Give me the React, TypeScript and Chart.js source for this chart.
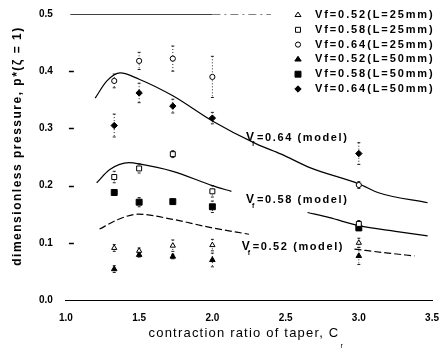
import React, { useEffect, useRef } from 'react';
import { Chart, registerables } from 'chart.js';

Chart.register(...registerables);

// ---- data ----
const contractionRatio = [1.33, 1.5, 1.73, 2.0, 3.0];

const vf052L25 = [0.091, 0.086, 0.095, 0.096, 0.1];
const vf058L25 = [0.215, 0.23, 0.255, 0.19, 0.133];
const vf064L25 = [0.383, 0.418, 0.422, 0.39, 0.201];
const vf052L50 = [0.054, 0.079, 0.076, 0.07, 0.077];
const vf058L50 = [0.188, 0.171, 0.172, 0.163, 0.126];
const vf064L50 = [0.305, 0.362, 0.339, 0.318, 0.256];

const err052L25 = [0.006, 0.005, 0.01, 0.01, 0.008];
const err058L25 = [0.01, 0.008, 0.006, 0.01, 0.006];
const err064L25 = [0.012, 0.015, 0.022, 0.036, 0.006];
const err052L50 = [0.006, 0.004, 0.004, 0.012, 0.015];
const err058L50 = [0.005, 0.008, 0.004, 0.01, 0.004];
const err064L50 = [0.02, 0.017, 0.012, 0.01, 0.019];

const seriesLabels = [
  'Vf=0.52(L=25mm)',
  'Vf=0.58(L=25mm)',
  'Vf=0.64(L=25mm)',
  'Vf=0.52(L=50mm)',
  'Vf=0.58(L=50mm)',
  'Vf=0.64(L=50mm)',
];

const model064X = [1.2, 1.28, 1.37, 1.5, 1.73, 2.0, 2.3, 2.47, 2.67, 3.0, 3.14, 3.47];
const model064Y = [0.353, 0.383, 0.397, 0.386, 0.357, 0.313, 0.273, 0.255, 0.231, 0.203, 0.187, 0.17];
const model058X = [1.21, 1.3, 1.43, 1.5, 1.73, 2.0, 2.13, 2.4, 2.65, 2.8, 3.0, 3.25, 3.47];
const model058Y = [0.205, 0.228, 0.24, 0.238, 0.225, 0.2, 0.19, null, 0.153, 0.144, 0.13, 0.12, 0.112];
const model052X = [1.23, 1.35, 1.49, 1.73, 2.0, 2.25, 2.6, 2.97, 3.2, 3.38];
const model052Y = [0.124, 0.14, 0.15, 0.141, 0.126, 0.115, null, 0.089, 0.082, 0.077];

const modelLabels = ['=0.64 (model)', '=0.58 (model)', '=0.52 (model)'];
const modelLabelAt = [
  [2.23, 0.283],
  [2.23, 0.175],
  [2.2, 0.093],
];

const frameSolidX = [1.03, 2.0];
const frameDashX = [2.0, 2.4];
const frameY = 0.5;

const xTicks = [1.0, 1.5, 2.0, 2.5, 3.0, 3.5];
const yTicks = [0.0, 0.1, 0.2, 0.3, 0.4, 0.5];

const xTitle = 'contraction ratio of taper, C';
const xTitleSub = 'r';
const yTitle = 'dimensionless pressure, p*(\u03B6 = 1)';

const FONT = '"Liberation Sans", Arial, sans-serif';

const pts = (xs: number[], ys: (number | null)[]) => xs.map((x, i) => ({ x, y: ys[i] }));

type Style = 'triangle' | 'rect' | 'circle' | 'rectRot';

function drawMarker(ctx: CanvasRenderingContext2D, style: Style, x: number, y: number, r: number, filled: boolean) {
  ctx.beginPath();
  if (style === 'circle') {
    ctx.arc(x, y, r, 0, Math.PI * 2);
  } else if (style === 'rect') {
    const s = r * Math.SQRT1_2;
    ctx.rect(x - s, y - s, 2 * s, 2 * s);
  } else if (style === 'rectRot') {
    ctx.moveTo(x, y - r);
    ctx.lineTo(x + r, y);
    ctx.lineTo(x, y + r);
    ctx.lineTo(x - r, y);
    ctx.closePath();
  } else {
    const h = r * 1.5;
    ctx.moveTo(x, y - h * 0.66);
    ctx.lineTo(x + r, y + h * 0.34);
    ctx.lineTo(x - r, y + h * 0.34);
    ctx.closePath();
  }
  ctx.lineWidth = 1;
  ctx.strokeStyle = '#000';
  ctx.fillStyle = filled ? '#000' : '#fff';
  ctx.fill();
  ctx.stroke();
}

const errorBarPlugin = {
  id: 'errorBars',
  beforeDatasetsDraw(chart: any) {
    const ctx = chart.ctx as CanvasRenderingContext2D;
    const xs = chart.scales.x;
    const ys = chart.scales.y;
    ctx.save();
    chart.data.datasets.forEach((ds: any) => {
      if (!ds.errors) return;
      ds.data.forEach((p: any, i: number) => {
        const e = ds.errors[i];
        const px = xs.getPixelForValue(p.x);
        const y1 = ys.getPixelForValue(p.y + e);
        const y2 = ys.getPixelForValue(p.y - e);
        ctx.strokeStyle = '#222';
        ctx.lineWidth = 1;
        ctx.setLineDash([1, 2]);
        ctx.beginPath();
        ctx.moveTo(px, y1);
        ctx.lineTo(px, y2);
        ctx.stroke();
        ctx.setLineDash([]);
        ctx.beginPath();
        ctx.moveTo(px - 1.5, y1);
        ctx.lineTo(px + 1.5, y1);
        ctx.moveTo(px - 1.5, y2);
        ctx.lineTo(px + 1.5, y2);
        ctx.stroke();
      });
    });
    ctx.restore();
  },
};

const yTickMarks = {
  id: 'yTickMarks',
  afterDraw(chart: any) {
    const ctx = chart.ctx as CanvasRenderingContext2D;
    const ys = chart.scales.y;
    const left = chart.chartArea.left;
    ctx.save();
    ctx.setLineDash([]);
    ctx.strokeStyle = '#000';
    ctx.lineWidth = 1.5;
    yTicks.slice(1, 5).forEach((v) => {
      const y = Math.round(ys.getPixelForValue(v)) + 0.5;
      ctx.beginPath();
      ctx.moveTo(left + 3, y);
      ctx.lineTo(left + 8, y);
      ctx.stroke();
    });
    ctx.restore();
  },
};

const textPlugin = {
  id: 'texts',
  afterDraw(chart: any) {
    const ctx = chart.ctx as any;
    const xs = chart.scales.x;
    const ys = chart.scales.y;
    ctx.save();
    ctx.fillStyle = '#000';

    // y-axis title
    ctx.save();
    ctx.translate(18, 146);
    ctx.rotate(-Math.PI / 2);
    ctx.font = `bold 12px ${FONT}`;
    ctx.letterSpacing = '1.5px';
    ctx.textAlign = 'center';
    ctx.textBaseline = 'middle';
    ctx.fillText(yTitle, 0, 0);
    ctx.restore();

    // x-axis title
    ctx.save();
    ctx.font = `13px ${FONT}`;
    ctx.letterSpacing = '1.2px';
    ctx.textAlign = 'center';
    ctx.textBaseline = 'middle';
    const cx = 244;
    ctx.fillText(xTitle, cx, 333);
    const w = ctx.measureText(xTitle).width;
    ctx.font = `7px ${FONT}`;
    ctx.letterSpacing = '0px';
    ctx.textAlign = 'left';
    ctx.fillText(xTitleSub, cx + w / 2 + 1, 346);
    ctx.restore();

    // model labels
    modelLabels.forEach((lab, i) => {
      const px = xs.getPixelForValue(modelLabelAt[i][0]);
      const py = ys.getPixelForValue(modelLabelAt[i][1]);
      ctx.save();
      ctx.textBaseline = 'middle';
      ctx.textAlign = 'left';
      ctx.font = `bold 12px ${FONT}`;
      ctx.letterSpacing = '1px';
      ctx.fillText('V', px, py);
      ctx.font = `bold 7px ${FONT}`;
      ctx.fillText('f', px + 6, py + 6);
      ctx.font = `bold 11px ${FONT}`;
      ctx.letterSpacing = '1.6px';
      ctx.fillText(lab, px + 11, py);
      ctx.restore();
    });

    // legend
    const markerX = 298;
    const textX = 315;
    const top = 15;
    const step = 14.8;
    chart.data.datasets
      .filter((ds: any) => ds.legendStyle)
      .forEach((ds: any, i: number) => {
        const y = top + i * step;
        drawMarker(ctx, ds.legendStyle, markerX, y, ds.legendRadius, ds.legendFilled);
        ctx.save();
        ctx.fillStyle = '#000';
        ctx.font = `bold 11px ${FONT}`;
        ctx.letterSpacing = '1.9px';
        ctx.textAlign = 'left';
        ctx.textBaseline = 'middle';
        ctx.fillText(ds.label, textX, y);
        ctx.restore();
      });
    ctx.restore();
  },
};

function seriesDataset(label: string, ys: number[], errs: number[], style: Style, radius: number, filled: boolean) {
  return {
    type: 'scatter' as const,
    label,
    data: pts(contractionRatio, ys),
    errors: errs,
    pointStyle: style,
    pointRadius: radius,
    pointBorderWidth: 1,
    pointBorderColor: '#000',
    pointBackgroundColor: filled ? '#000' : '#fff',
    showLine: false,
    legendStyle: style,
    legendRadius: radius,
    legendFilled: filled,
  };
}

function lineDataset(xs: number[], ys: (number | null)[], dash: number[], width: number) {
  return {
    type: 'line' as const,
    label: '',
    data: pts(xs, ys),
    borderColor: '#000',
    borderWidth: width,
    borderDash: dash,
    pointRadius: 0,
    fill: false,
    spanGaps: false,
    cubicInterpolationMode: 'monotone' as const,
  };
}

export default function App() {
  const ref = useRef<HTMLCanvasElement | null>(null);
  useEffect(() => {
    if (!ref.current) return;
    const chart = new Chart(ref.current, {
      type: 'scatter',
      data: {
        datasets: [
          seriesDataset(seriesLabels[0], vf052L25, err052L25, 'triangle', 3, false),
          seriesDataset(seriesLabels[1], vf058L25, err058L25, 'rect', 3.5, false),
          seriesDataset(seriesLabels[2], vf064L25, err064L25, 'circle', 2.6, false),
          seriesDataset(seriesLabels[3], vf052L50, err052L50, 'triangle', 3.2, true),
          seriesDataset(seriesLabels[4], vf058L50, err058L50, 'rect', 4.2, true),
          seriesDataset(seriesLabels[5], vf064L50, err064L50, 'rectRot', 3.2, true),
          lineDataset(model064X, model064Y, [], 1.2),
          lineDataset(model058X, model058Y, [], 1.2),
          lineDataset(model052X, model052Y, [7, 3], 1.2),
          lineDataset(frameSolidX, [frameY, frameY], [], 1.5),
          lineDataset(frameDashX, [frameY, frameY], [8, 4, 2, 4], 1),
        ] as any,
      },
      options: {
        animation: false,
        responsive: false,
        devicePixelRatio: 1,
        layout: { padding: { left: 31, top: 13, right: -6, bottom: 28 } },
        plugins: {
          legend: { display: false },
          tooltip: { enabled: false },
        },
        scales: {
          x: {
            type: 'linear',
            min: 1.0,
            max: 3.5,
            afterBuildTicks: (s: any) => {
              s.ticks = xTicks.map((v) => ({ value: v }));
            },
            ticks: {
              color: '#000',
              font: { family: FONT, size: 10, weight: 'bold' },
              padding: 2,
              callback: (v: any) => Number(v).toFixed(1),
            },
            grid: {
              display: true,
              drawOnChartArea: false,
              drawTicks: true,
              tickLength: 10,
              tickColor: 'rgba(0,0,0,0)',
            },
            border: { display: true, color: '#000', dash: [6, 28], width: 1 },
          },
          y: {
            type: 'linear',
            min: 0,
            max: 0.5,
            afterBuildTicks: (s: any) => {
              s.ticks = yTicks.map((v) => ({ value: v }));
            },
            ticks: {
              color: '#000',
              font: { family: FONT, size: 10, weight: 'bold' },
              padding: 8,
              callback: (v: any) => Number(v).toFixed(1),
            },
            grid: {
              display: false,
              drawOnChartArea: false,
              drawTicks: true,
              tickLength: 5,
            },
            border: { display: false },
          },
        },
      } as any,
      plugins: [errorBarPlugin, yTickMarks, textPlugin],
    });
    return () => chart.destroy();
  }, []);

  return (
    <div style={{ position: 'fixed', left: 0, top: 0, width: 441, height: 354, background: '#fff' }}>
      <canvas ref={ref} width={441} height={354} style={{ display: 'block' }} />
    </div>
  );
}
